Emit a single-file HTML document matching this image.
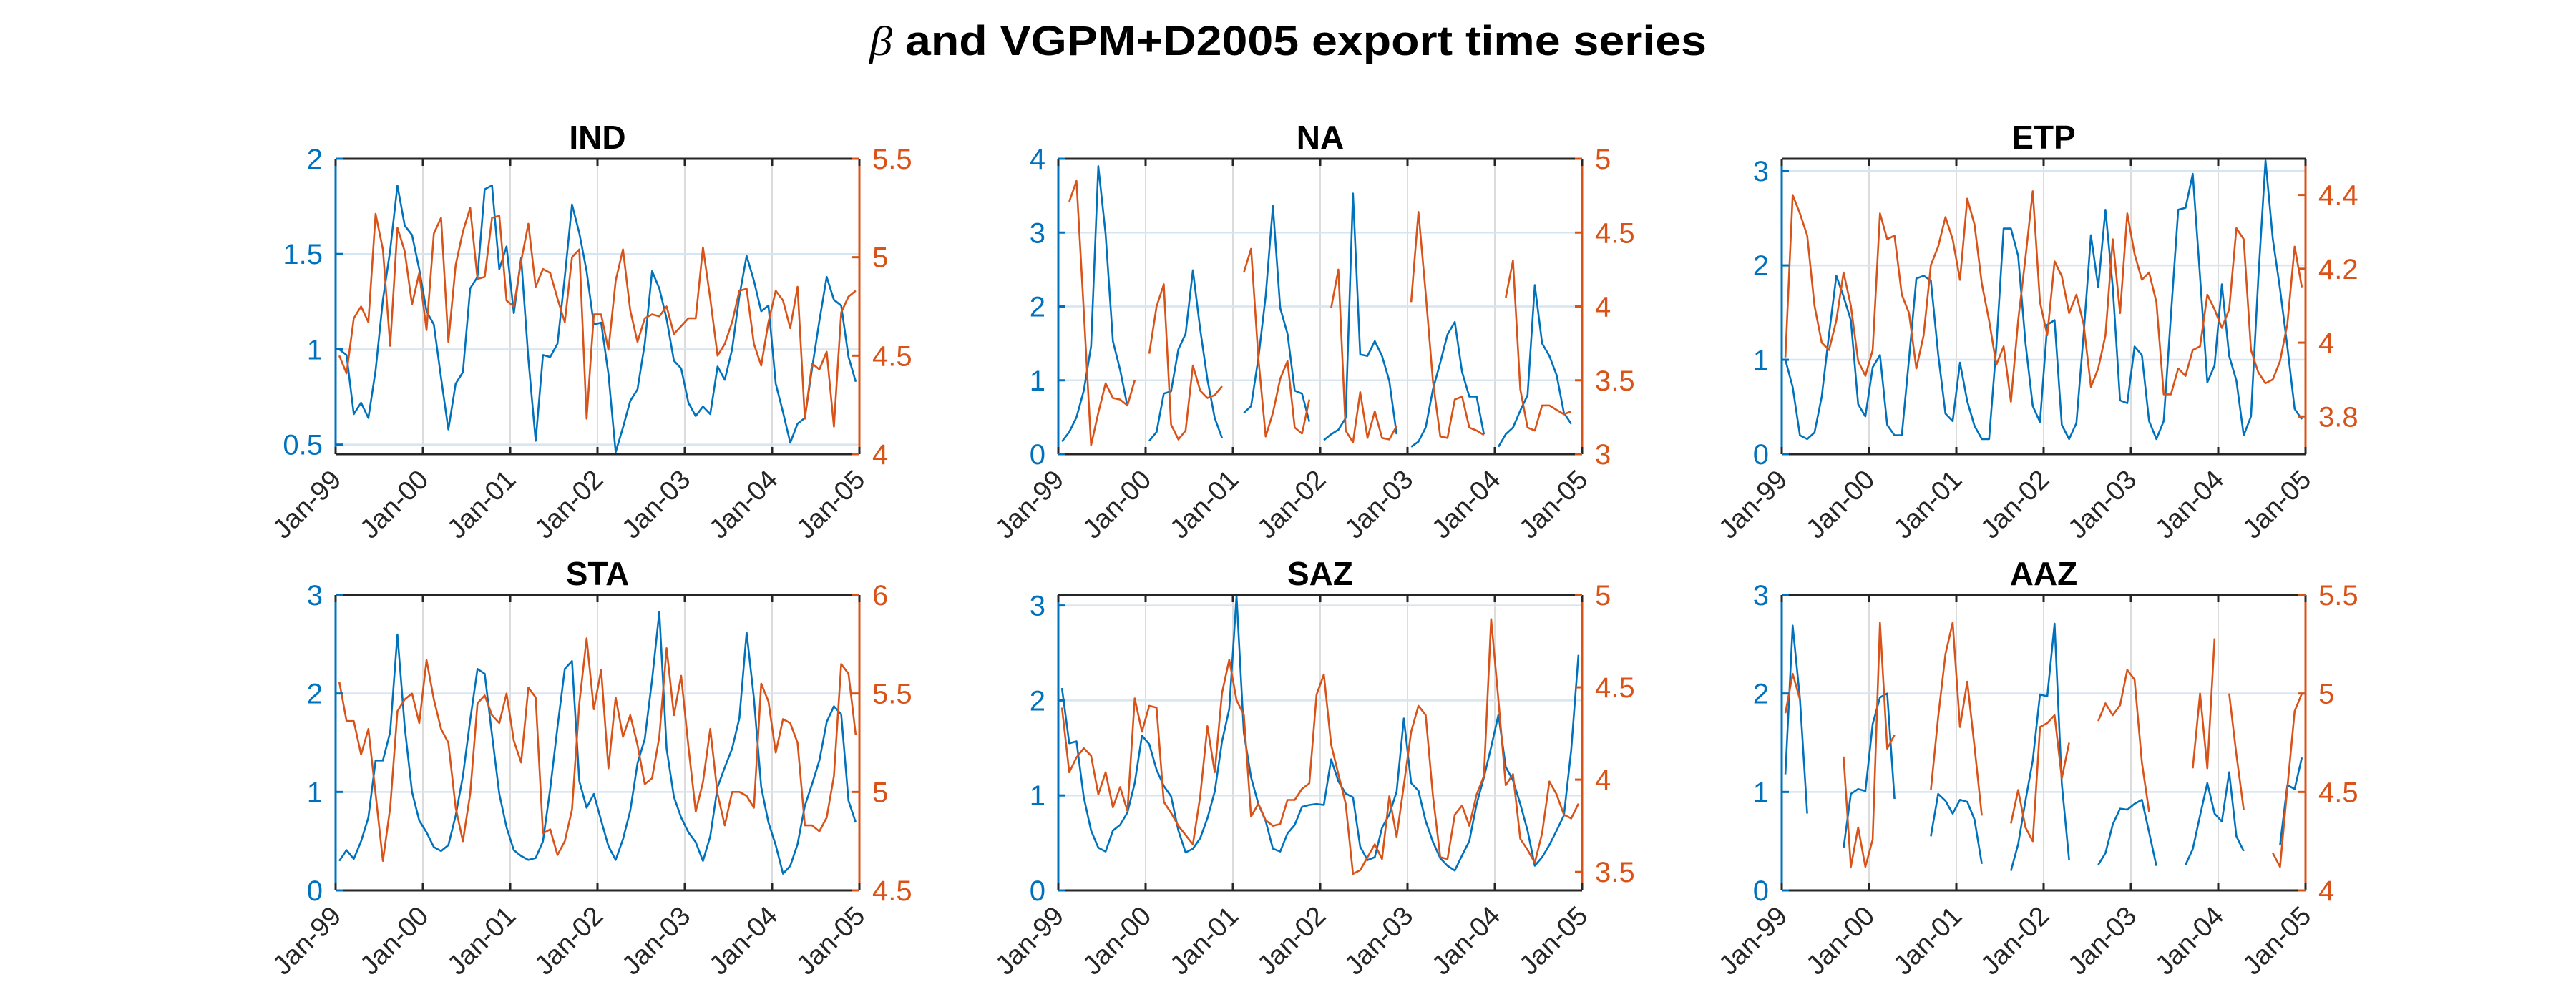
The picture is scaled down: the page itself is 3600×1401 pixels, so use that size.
<!DOCTYPE html>
<html><head><meta charset="utf-8"><style>
html,body{margin:0;padding:0;background:#fff;}
svg{display:block;}
text{font-family:"Liberation Sans","DejaVu Sans",sans-serif;}
</style></head><body>
<svg id="fig" width="3600" height="1401" viewBox="0 0 3600 1401" xmlns="http://www.w3.org/2000/svg">
<rect width="3600" height="1401" fill="#fff"/>
<text x="1800" y="77" text-anchor="middle" font-size="58" font-weight="bold" textLength="1170" lengthAdjust="spacingAndGlyphs"><tspan font-style="italic" font-weight="normal" font-family="Liberation Serif, serif">β</tspan> and VGPM+D2005 export time series</text>
</svg>
<script>
const yearLabels = ["Jan-99","Jan-00","Jan-01","Jan-02","Jan-03","Jan-04","Jan-05"];
const regionNames = ["IND","NA","ETP","STA","SAZ","AAZ"];
const _ = null;
const indBeta = [1.0,0.97,0.66,0.72,0.64,0.89,1.26,1.52,1.86,1.65,1.6,1.42,1.2,1.13,0.85,0.58,0.82,0.88,1.32,1.38,1.84,1.86,1.42,1.54,1.19,1.48,0.95,0.52,0.97,0.96,1.03,1.38,1.76,1.61,1.41,1.13,1.14,0.87,0.46,0.59,0.73,0.79,1.03,1.41,1.32,1.16,0.94,0.9,0.72,0.65,0.7,0.66,0.91,0.84,1.0,1.28,1.49,1.36,1.2,1.23,0.82,0.67,0.51,0.61,0.64,0.9,1.15,1.38,1.26,1.23,0.96,0.83];
const indExport = [4.5,4.41,4.69,4.75,4.67,5.22,5.04,4.55,5.15,5.03,4.76,4.92,4.63,5.12,5.2,4.57,4.96,5.13,5.25,4.89,4.9,5.2,5.21,4.78,4.75,4.98,5.17,4.85,4.94,4.92,4.79,4.67,5.0,5.04,4.18,4.71,4.71,4.53,4.88,5.04,4.73,4.57,4.69,4.71,4.7,4.75,4.61,4.65,4.69,4.69,5.05,4.79,4.5,4.56,4.67,4.83,4.84,4.56,4.45,4.67,4.83,4.78,4.64,4.85,4.18,4.46,4.43,4.52,4.14,4.72,4.8,4.83];
const naBeta = [0.17,0.3,0.5,0.86,1.46,3.9,2.98,1.53,1.14,0.65,_,_,0.18,0.3,0.82,0.85,1.42,1.63,2.49,1.69,1.01,0.49,0.22,_,_,0.56,0.65,1.3,2.14,3.36,1.98,1.63,0.86,0.82,0.44,_,0.19,0.27,0.33,0.49,3.53,1.35,1.33,1.53,1.33,0.99,0.27,_,0.1,0.17,0.36,0.88,1.24,1.62,1.79,1.11,0.78,0.78,0.27,_,0.1,0.27,0.36,0.59,0.8,2.29,1.5,1.33,1.07,0.56,0.41,_];
const naExport = [_,4.71,4.85,3.97,3.06,3.28,3.48,3.38,3.37,3.33,3.5,_,3.68,4.0,4.15,3.2,3.1,3.16,3.6,3.43,3.38,3.4,3.46,_,_,4.23,4.39,3.65,3.12,3.28,3.51,3.63,3.18,3.14,3.37,_,_,3.99,4.25,3.16,3.08,3.42,3.11,3.29,3.11,3.1,3.19,_,4.03,4.64,4.09,3.49,3.12,3.11,3.37,3.39,3.18,3.16,3.13,_,_,4.06,4.31,3.44,3.18,3.16,3.33,3.33,3.3,3.27,3.29,_];
const etpBeta = [1.0,0.71,0.2,0.16,0.23,0.61,1.27,1.89,1.67,1.42,0.53,0.4,0.92,1.05,0.31,0.2,0.2,1.01,1.86,1.89,1.84,1.06,0.43,0.35,0.97,0.56,0.3,0.16,0.16,1.14,2.39,2.39,2.1,1.18,0.51,0.34,1.37,1.42,0.31,0.16,0.33,1.27,2.32,1.77,2.59,1.77,0.57,0.54,1.14,1.05,0.35,0.16,0.35,1.47,2.59,2.61,2.97,1.88,0.76,0.94,1.8,1.04,0.78,0.2,0.4,1.85,3.11,2.28,1.75,1.14,0.48,0.37];
const etpExport = [3.96,4.4,4.35,4.29,4.1,4.0,3.98,4.06,4.19,4.1,3.95,3.91,3.98,4.35,4.28,4.29,4.13,4.08,3.93,4.02,4.21,4.26,4.34,4.28,4.17,4.39,4.32,4.16,4.06,3.94,3.99,3.84,4.06,4.23,4.41,4.11,4.02,4.22,4.18,4.08,4.13,4.05,3.88,3.93,4.02,4.28,4.08,4.35,4.24,4.17,4.19,4.11,3.86,3.86,3.93,3.91,3.98,3.99,4.13,4.09,4.04,4.09,4.31,4.28,3.98,3.92,3.89,3.9,3.95,4.05,4.26,4.15];
const staBeta = [0.3,0.41,0.32,0.5,0.74,1.32,1.32,1.61,2.6,1.66,1.0,0.71,0.59,0.44,0.4,0.46,0.76,1.16,1.73,2.25,2.2,1.58,0.98,0.64,0.41,0.35,0.31,0.33,0.5,1.03,1.66,2.25,2.33,1.11,0.84,0.98,0.71,0.45,0.31,0.52,0.81,1.29,1.54,2.14,2.83,1.44,0.95,0.74,0.59,0.49,0.3,0.55,1.05,1.25,1.44,1.75,2.62,1.95,1.05,0.69,0.46,0.17,0.25,0.47,0.86,1.08,1.32,1.71,1.87,1.79,0.91,0.69];
const staExport = [5.56,5.36,5.36,5.19,5.32,4.99,4.65,4.92,5.41,5.47,5.5,5.35,5.67,5.47,5.32,5.25,4.92,4.75,4.99,5.45,5.49,5.39,5.35,5.5,5.26,5.15,5.53,5.48,4.79,4.81,4.68,4.75,4.91,5.45,5.78,5.42,5.62,5.12,5.48,5.28,5.39,5.24,5.04,5.07,5.28,5.73,5.39,5.59,5.23,4.9,5.05,5.32,4.99,4.83,5.0,5.0,4.98,4.92,5.55,5.46,5.2,5.37,5.35,5.25,4.83,4.83,4.8,4.87,5.08,5.65,5.6,5.29];
const sazBeta = [2.13,1.55,1.57,0.98,0.63,0.45,0.41,0.63,0.69,0.82,1.13,1.63,1.54,1.27,1.1,0.99,0.63,0.4,0.44,0.55,0.76,1.04,1.57,1.91,3.1,1.66,1.19,0.91,0.73,0.44,0.41,0.6,0.69,0.88,0.9,0.91,0.9,1.38,1.15,1.02,0.98,0.46,0.32,0.35,0.66,0.8,1.04,1.81,1.13,1.05,0.73,0.51,0.34,0.26,0.21,0.37,0.52,0.91,1.19,1.51,1.85,1.3,1.16,0.91,0.63,0.26,0.35,0.48,0.63,0.79,1.48,2.48];
const sazExport = [4.39,4.04,4.12,4.17,4.13,3.92,4.04,3.85,3.96,3.83,4.44,4.26,4.4,4.39,3.88,3.82,3.75,3.7,3.65,3.91,4.29,4.04,4.47,4.65,4.43,4.35,3.8,3.87,3.78,3.75,3.76,3.89,3.89,3.95,3.98,4.46,4.57,4.19,4.03,3.87,3.49,3.51,3.58,3.65,3.57,3.91,3.69,3.97,4.26,4.4,4.35,3.91,3.58,3.57,3.81,3.86,3.75,3.92,4.02,4.87,4.43,3.97,4.03,3.68,3.62,3.55,3.71,3.99,3.92,3.81,3.79,3.87];
const aazBeta = [1.18,2.69,1.95,0.78,_,_,_,_,0.43,0.98,1.03,1.01,1.69,1.96,2.0,0.93,_,_,_,_,0.55,0.98,0.91,0.78,0.92,0.9,0.72,0.27,_,_,_,0.2,0.47,0.91,1.32,1.99,1.97,2.71,1.08,0.31,_,_,_,0.26,0.38,0.67,0.83,0.82,0.88,0.92,0.59,0.25,_,_,_,0.26,0.42,0.76,1.09,0.78,0.7,1.2,0.55,0.4,_,_,_,_,0.46,1.07,1.03,1.35];
const aazExport = [4.9,5.1,4.97,_,_,_,_,_,4.68,4.12,4.32,4.12,4.26,5.36,4.72,4.79,_,_,_,_,4.51,4.88,5.2,5.36,4.83,5.06,4.73,4.38,_,_,_,4.34,4.51,4.32,4.25,4.83,4.85,4.89,4.57,4.75,_,_,_,4.86,4.95,4.89,4.94,5.12,5.07,4.65,4.4,_,_,_,_,_,4.62,5.0,4.62,5.28,_,5.0,4.69,4.41,_,_,_,4.19,4.12,4.52,4.91,5.0];
const betaSeries = [indBeta,naBeta,etpBeta,staBeta,sazBeta,aazBeta];
const exportSeries = [indExport,naExport,etpExport,staExport,sazExport,aazExport];
const leftLimits = [[0.45,2],[0,4],[0,3.13],[0,3],[0,3.11],[0,3]];
const rightLimits = [[4,5.5],[3,5],[3.698,4.498],[4.5,6],[3.4,5],[4,5.5]];
const leftTicks = [[0.5,1,1.5,2],[0,1,2,3,4],[0,1,2,3],[0,1,2,3],[0,1,2,3],[0,1,2,3]];
const rightTicks = [[4,4.5,5,5.5],[3,3.5,4,4.5,5],[3.8,4,4.2,4.4],[4.5,5,5.5,6],[3.5,4,4.5,5],[4,4.5,5,5.5]];

const NS = "http://www.w3.org/2000/svg";
const svg = document.getElementById('fig');
const BLUE = "#0072BD", ORANGE = "#D95319";
const colX = [469,1479,2490], rowY = [222,832], W = 732, H = 413;
function mk(tag, attrs, parent){ const e=document.createElementNS(NS,tag); for(const k in attrs) e.setAttribute(k,attrs[k]); (parent||svg).appendChild(e); return e; }
function fmt(v){ return String(Math.round(v*10)/10); }

regionNames.forEach((name, p) => {
  const L = colX[p%3], T = rowY[Math.floor(p/3)], R = L+W, B = T+H;
  const g = mk('g',{});
  
  
  const n = betaSeries[p].length;
  const xs = i => L + (i+0.5)/n*W;
  const yl = v => B - (v-leftLimits[p][0])/(leftLimits[p][1]-leftLimits[p][0])*H;
  const yr = v => B - (v-rightLimits[p][0])/(rightLimits[p][1]-rightLimits[p][0])*H;
  // grids
  yearLabels.forEach((lab,k)=>{
    const x = L + k/(yearLabels.length-1)*W;
    if(k>0 && k<yearLabels.length-1){
      const gl = mk('line',{x1:x,x2:x,y1:T,y2:B,stroke:"#dcdcdc","stroke-width":2},g);
      
      
    }
  });
  leftTicks[p].forEach(v=>{
    const y = yl(v);
    const gl = mk('line',{x1:L,x2:R,y1:y,y2:y,stroke:"#d6e5f2","stroke-width":2.5},g);
    
    
  });
  // series
  function drawSeries(arr, yf, color, nm){
    let d = "", pen = false;
    arr.forEach((v,i)=>{ if(v===null){pen=false;return;} d += (pen?"L":"M")+xs(i).toFixed(1)+" "+yf(v).toFixed(1); pen=true; });
    const path = mk('path',{d:d,fill:"none",stroke:color,"stroke-width":2.6,"stroke-linejoin":"round"},g);
    
    
  }
  drawSeries(betaSeries[p], yl, BLUE, 'beta-line-' + name.toLowerCase());
  drawSeries(exportSeries[p], yr, ORANGE, 'export-line-' + name.toLowerCase());
  // box
  mk('line',{x1:L,x2:R,y1:T,y2:T,stroke:"#262626","stroke-width":3},g);
  mk('line',{x1:L,x2:R,y1:B,y2:B,stroke:"#262626","stroke-width":3},g);
  const la = mk('line',{x1:L,x2:L,y1:T,y2:B,stroke:BLUE,"stroke-width":3},g);
  
  
  const ra = mk('line',{x1:R,x2:R,y1:T,y2:B,stroke:ORANGE,"stroke-width":3},g);
  
  
  // x ticks & labels
  yearLabels.forEach((lab,k)=>{
    const x = L + k/(yearLabels.length-1)*W;
    mk('line',{x1:x,x2:x,y1:B,y2:B-10,stroke:"#262626","stroke-width":3},g);
    mk('line',{x1:x,x2:x,y1:T,y2:T+10,stroke:"#262626","stroke-width":3},g);
    const t = mk('text',{x:x+10,y:B+38,"text-anchor":"end","font-size":38,fill:"#262626",transform:`rotate(-45 ${x+10} ${B+38})`},g);
    t.textContent = lab;
    
    
  });
  leftTicks[p].forEach(v=>{
    const y = yl(v);
    mk('line',{x1:L,x2:L+10,y1:y,y2:y,stroke:BLUE,"stroke-width":3},g);
    const t = mk('text',{x:L-18,y:y+14,"text-anchor":"end","font-size":40,fill:BLUE},g);
    t.textContent = fmt(v);
    
    
  });
  rightTicks[p].forEach(v=>{
    const y = yr(v);
    mk('line',{x1:R,x2:R-10,y1:y,y2:y,stroke:ORANGE,"stroke-width":3},g);
    const t = mk('text',{x:R+18,y:y+14,"text-anchor":"start","font-size":40,fill:ORANGE},g);
    t.textContent = fmt(v);
    
    
  });
  const tt = mk('text',{x:L+W/2,y:T-14,"text-anchor":"middle","font-size":46,"font-weight":"bold",fill:"#000"},g);
  tt.textContent = name;
  
  
});
</script>
</body></html>
